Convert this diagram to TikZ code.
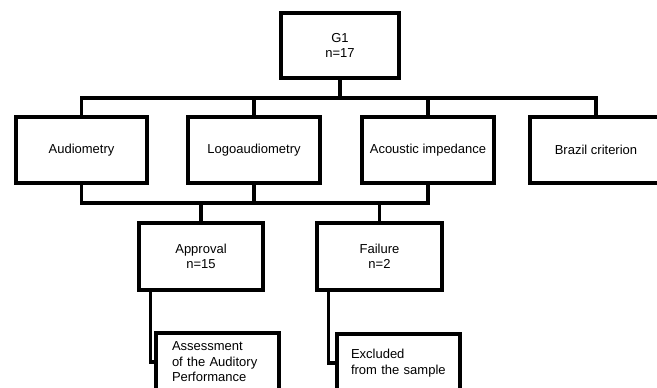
\documentclass[tikz,border=0pt]{standalone}
\usepackage{fontspec}
\setmainfont{Liberation Sans}

\begin{document}
\begin{tikzpicture}[x=1pt,y=-1pt,line width=3.2pt,
    box/.style={draw, rectangle, minimum width=132pt, minimum height=66pt,
      inner sep=2pt, font=\fontsize{13}{15.5}\selectfont, align=center},
    note/.style={box, minimum width=123pt, minimum height=58pt, align=left}]
            \useasboundingbox (0,0) rectangle (657,388);
            \node[box, minimum width=118pt, minimum height=65pt] (g1) at (340,45.5) {G1\\n=17};
            \node[box, minimum width=131pt] (aud) at (81.5,150) {Audiometry};
            \node[box] (logo) at (254,150) {Logoaudiometry};
            \node[box] (acou) at (428,150) {Acoustic impedance};
            \node[box] (braz) at (596,150) {Brazil criterion};
            \node[box, minimum width=124pt, minimum height=67pt] (appr) at (201,256.5) {Approval\\n=15};
            \node[box, minimum width=125pt, minimum height=67pt] (fail) at (379.5,256.5) {Failure\\n=2};
            \node[note, text width=91pt] (assess) at (217.5,362) {Assessment\\of the Auditory\\Performance};
            \node[note, text width=95pt] (excl) at (398.5,363) {Excluded\\from the sample};
            \coordinate (top) at (0,98);
            \coordinate (low) at (0,203);
            \draw (g1.south) -- (g1.south |- top);
            \draw (aud.north) -- (aud.north |- top) -- (braz.north |- top) -- (braz.north);
            \draw (logo.north) -- (logo.north |- top);
            \draw (acou.north) -- (acou.north |- top);
            \draw (aud.south) -- (aud.south |- low) -- (acou.south |- low) -- (acou.south);
            \draw (logo.south) -- (logo.south |- low);
            \draw (appr.north) -- (appr.north |- low);
            \draw (fail.north) -- (fail.north |- low);
            \draw ([xshift=13pt]appr.south west) |- (assess.west);
            \draw ([xshift=13pt]fail.south west) |- (excl.west);
        \end{tikzpicture}
\end{document}
